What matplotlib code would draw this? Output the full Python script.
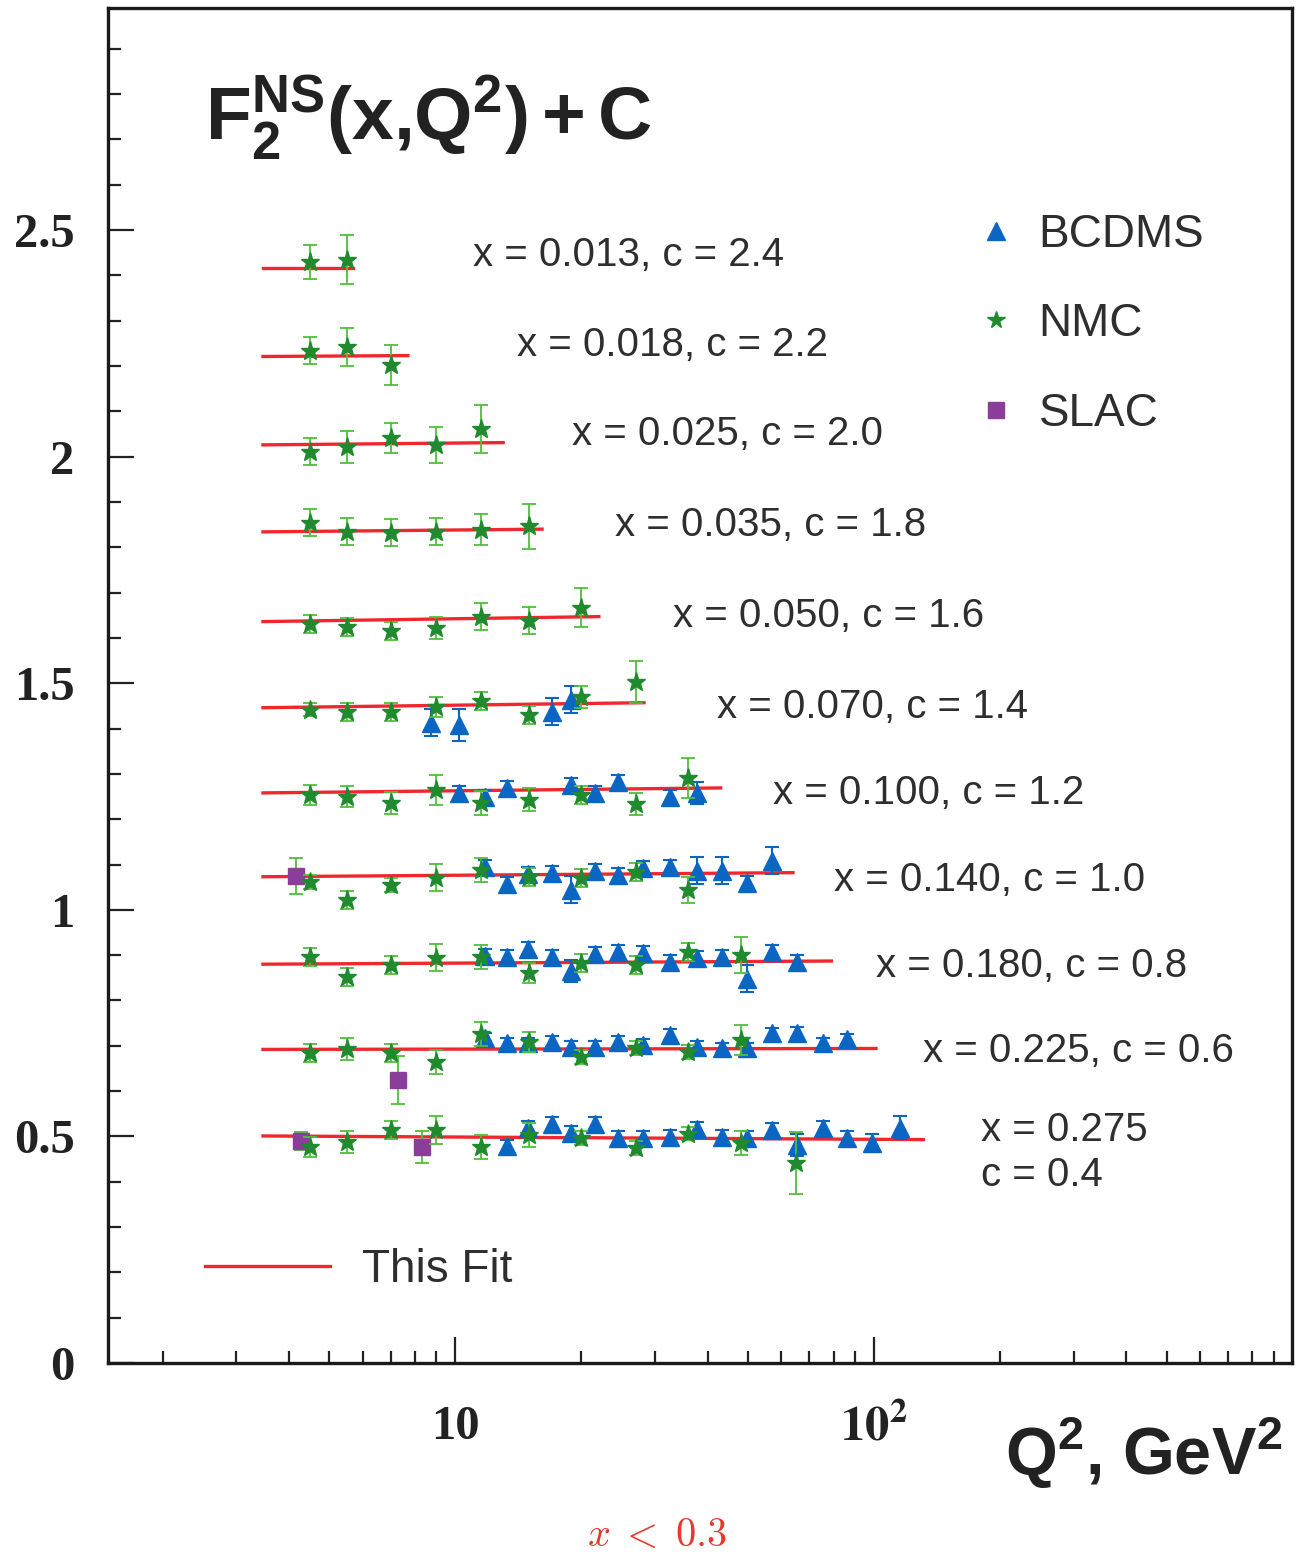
import numpy as np
import matplotlib
matplotlib.use('Agg')
import matplotlib.pyplot as plt
from matplotlib.lines import Line2D
from matplotlib.ticker import FixedLocator, MultipleLocator, FuncFormatter, NullFormatter

# --- data ---
x_bins = [0.013, 0.018, 0.025, 0.035, 0.050, 0.070, 0.100, 0.140, 0.180, 0.225, 0.275]
c_shift = [2.4, 2.2, 2.0, 1.8, 1.6, 1.4, 1.2, 1.0, 0.8, 0.6, 0.4]

# fit line per x bin (start / end Q2 and value, already shifted by c)
fit_q2_lo = [3.47] * 11
fit_q2_hi = [5.7, 7.7, 13.0, 16.1, 22.0, 28.2, 43.0, 64.0, 79.0, 101.0, 131.0]
fit_lo = [2.417, 2.221, 2.026, 1.834, 1.636, 1.446, 1.258, 1.073, 0.880, 0.692, 0.501]
fit_hi = [2.417, 2.223, 2.031, 1.840, 1.647, 1.457, 1.269, 1.082, 0.887, 0.694, 0.493]

# NMC
nmc_q2 = [
    [4.5, 5.5],
    [4.5, 5.5, 7.0],
    [4.5, 5.5, 7.0, 9.0, 11.5],
    [4.5, 5.5, 7.0, 9.0, 11.5, 15.0],
    [4.5, 5.5, 7.0, 9.0, 11.5, 15.0, 20.0],
    [4.5, 5.5, 7.0, 9.0, 11.5, 15.0, 20.0, 27.0],
    [4.5, 5.5, 7.0, 9.0, 11.5, 15.0, 20.0, 27.0, 36.0],
    [4.5, 5.5, 7.0, 9.0, 11.5, 15.0, 20.0, 27.0, 36.0],
    [4.5, 5.5, 7.0, 9.0, 11.5, 15.0, 20.0, 27.0, 36.0, 48.0],
    [4.5, 5.5, 7.0, 9.0, 11.5, 15.0, 20.0, 27.0, 36.0, 48.0],
    [4.5, 5.5, 7.0, 9.0, 11.5, 15.0, 20.0, 27.0, 36.0, 48.0, 65.0],
]
nmc_f2 = [
    [2.430, 2.435],
    [2.234, 2.241, 2.203],
    [2.011, 2.022, 2.042, 2.026, 2.060],
    [1.854, 1.834, 1.832, 1.834, 1.839, 1.846],
    [1.631, 1.625, 1.616, 1.622, 1.647, 1.638, 1.667],
    [1.442, 1.437, 1.437, 1.448, 1.461, 1.430, 1.470, 1.503],
    [1.254, 1.250, 1.236, 1.265, 1.236, 1.243, 1.254, 1.234, 1.291],
    [1.062, 1.022, 1.055, 1.071, 1.088, 1.073, 1.071, 1.084, 1.044],
    [0.896, 0.852, 0.879, 0.894, 0.896, 0.861, 0.883, 0.879, 0.907, 0.901],
    [0.684, 0.693, 0.684, 0.664, 0.726, 0.709, 0.675, 0.695, 0.686, 0.713],
    [0.477, 0.488, 0.514, 0.514, 0.477, 0.503, 0.497, 0.475, 0.506, 0.486, 0.441],
]
nmc_err = [
    [0.038, 0.053],
    [0.030, 0.042, 0.044],
    [0.030, 0.035, 0.033, 0.040, 0.053],
    [0.030, 0.030, 0.030, 0.030, 0.035, 0.050],
    [0.020, 0.020, 0.020, 0.025, 0.030, 0.030, 0.044],
    [0.015, 0.020, 0.020, 0.022, 0.020, 0.020, 0.025, 0.046],
    [0.022, 0.024, 0.025, 0.033, 0.026, 0.025, 0.020, 0.024, 0.044],
    [0.015, 0.020, 0.015, 0.030, 0.026, 0.020, 0.020, 0.020, 0.028],
    [0.020, 0.020, 0.020, 0.030, 0.027, 0.022, 0.020, 0.020, 0.020, 0.040],
    [0.020, 0.024, 0.020, 0.026, 0.026, 0.022, 0.015, 0.015, 0.015, 0.033],
    [0.022, 0.024, 0.020, 0.030, 0.026, 0.026, 0.015, 0.015, 0.015, 0.026, 0.068],
]

# BCDMS
bcdms_q2 = [
    [], [], [], [], [],
    [8.75, 10.2, 17.0, 18.9],
    [10.2, 11.75, 13.25, 18.9, 21.5, 24.5, 32.5, 37.7],
    [11.75, 13.25, 14.9, 17.0, 18.9, 21.5, 24.5, 28.0, 32.5, 37.7, 43.3, 49.8, 57.0],
    [11.75, 13.25, 14.9, 17.0, 18.9, 21.5, 24.5, 28.0, 32.5, 37.7, 43.3, 49.8, 57.0, 65.5],
    [11.75, 13.25, 14.9, 17.0, 18.9, 21.5, 24.5, 28.0, 32.5, 37.7, 43.3, 49.8, 57.0, 65.5,
     75.5, 86.0],
    [13.25, 14.9, 17.0, 18.9, 21.5, 24.5, 28.0, 32.5, 37.7, 43.3, 49.8, 57.0, 65.5, 75.5,
     86.0, 99.0, 115.0],
]
bcdms_f2 = [
    [], [], [], [], [],
    [1.413, 1.408, 1.437, 1.464],
    [1.258, 1.249, 1.269, 1.276, 1.258, 1.283, 1.249, 1.258],
    [1.095, 1.057, 1.079, 1.082, 1.044, 1.086, 1.077, 1.093, 1.095, 1.086, 1.086, 1.060, 1.108],
    [0.898, 0.896, 0.914, 0.896, 0.865, 0.903, 0.907, 0.905, 0.885, 0.894, 0.896, 0.848, 0.907,
     0.885],
    [0.717, 0.706, 0.706, 0.709, 0.698, 0.698, 0.709, 0.702, 0.724, 0.698, 0.695, 0.695, 0.728,
     0.729, 0.706, 0.715],
    [0.478, 0.519, 0.528, 0.508, 0.528, 0.497, 0.497, 0.499, 0.517, 0.499, 0.497, 0.514, 0.481,
     0.519, 0.497, 0.486, 0.519],
]
bcdms_err = [
    [], [], [], [], [],
    [0.030, 0.035, 0.030, 0.030],
    [0.015, 0.015, 0.015, 0.015, 0.015, 0.015, 0.015, 0.025],
    [0.015, 0.015, 0.015, 0.015, 0.030, 0.015, 0.015, 0.015, 0.015, 0.030, 0.030, 0.015, 0.030],
    [0.015, 0.015, 0.015, 0.015, 0.025, 0.015, 0.015, 0.015, 0.015, 0.015, 0.015, 0.030, 0.015,
     0.015],
    [0.012, 0.012, 0.012, 0.012, 0.012, 0.012, 0.012, 0.012, 0.012, 0.012, 0.012, 0.012, 0.012,
     0.012, 0.012, 0.012],
    [0.015, 0.015, 0.015, 0.015, 0.015, 0.015, 0.015, 0.015, 0.015, 0.015, 0.015, 0.015, 0.025,
     0.015, 0.015, 0.020, 0.025],
]

# SLAC
slac_q2 = [4.17, 7.3, 4.28, 8.3]
slac_f2 = [1.075, 0.625, 0.490, 0.477]
slac_err = [0.040, 0.053, 0.020, 0.035]

# where the "x = ..., c = ..." labels sit (Q2, value)
label_q2 = [11.0, 14.0, 18.95, 24.0, 33.0, 42.1, 57.3, 80.1, 101.0, 131.0, 180.0]
label_y = [2.446, 2.247, 2.049, 1.850, 1.649, 1.448, 1.258, 1.066, 0.876, 0.689, 0.514]

# --- styling ---
blue = '#0b66c3'
green = '#1f8a2e'
green_bar = '#4fbf3a'
purple = '#8b3d9a'
red = '#f0282d'
ink = '#2e2e2e'

plt.rcParams['mathtext.fontset'] = 'stix'
plt.rcParams['mathtext.bf'] = 'Liberation Sans:bold'
plt.rcParams['mathtext.rm'] = 'Liberation Sans'
plt.rcParams['mathtext.it'] = 'Liberation Sans:italic'

fig = plt.figure(figsize=(13.08, 15.56), dpi=100)
ax = fig.add_axes([108 / 1308, 1 - 1363 / 1556, 1184 / 1308, 1355 / 1556])

# fit lines
for i in range(len(x_bins)):
    ax.plot([fit_q2_lo[i], fit_q2_hi[i]], [fit_lo[i], fit_hi[i]], color=red, lw=2.4, zorder=2)

# data points
for i in range(len(x_bins)):
    if nmc_q2[i]:
        ax.errorbar(nmc_q2[i], nmc_f2[i], yerr=nmc_err[i], fmt='*', ms=14, color=green,
                    ecolor=green_bar, elinewidth=1.3, capsize=5, capthick=1.3, zorder=4)
    if bcdms_q2[i]:
        ax.errorbar(bcdms_q2[i], bcdms_f2[i], yerr=bcdms_err[i], fmt='^', ms=13, color=blue,
                    ecolor=blue, elinewidth=1.5, capsize=5, capthick=1.5, zorder=3)
ax.errorbar(slac_q2, slac_f2, yerr=slac_err, fmt='s', ms=12, color=purple,
            ecolor=green_bar, elinewidth=1.3, capsize=5, capthick=1.3, zorder=3)

# row labels
lab_font = dict(fontsize=29, family='Liberation Sans', color=ink, va='center')
for i in range(len(x_bins)):
    if i == len(x_bins) - 1:
        ax.text(label_q2[i], label_y[i], f'x = {x_bins[i]:.3f}', **lab_font)
        ax.text(label_q2[i], label_y[i] - 0.099, f'c = {c_shift[i]:.1f}', **lab_font)
    else:
        ax.text(label_q2[i], label_y[i], f'x = {x_bins[i]:.3f}, c = {c_shift[i]:.1f}',
                **lab_font)

# axes
ax.set_xscale('log')
ax.set_xlim(1.48, 995)
ax.set_ylim(0, 2.99)
ax.xaxis.set_major_locator(FixedLocator([10, 100]))
ax.xaxis.set_minor_locator(FixedLocator([2, 3, 4, 5, 6, 7, 8, 9, 20, 30, 40, 50, 60, 70, 80, 90,
                                         200, 300, 400, 500, 600, 700, 800, 900]))
ax.xaxis.set_major_formatter(FuncFormatter(lambda v, p: '10' if v < 50 else r'$\mathbf{10^{2}}$'))
ax.xaxis.set_minor_formatter(NullFormatter())
ax.yaxis.set_major_locator(MultipleLocator(0.5))
ax.yaxis.set_minor_locator(MultipleLocator(0.1))
ax.yaxis.set_major_formatter(FuncFormatter(lambda v, p: f'{v:g}'))

ax.tick_params(which='both', direction='in', top=False, right=False, width=1.6, color='#222222')
ax.tick_params(which='major', length=19)
ax.tick_params(which='minor', length=9)
ax.tick_params(axis='x', which='major', pad=30, labelsize=35)
ax.tick_params(axis='y', which='major', pad=24, labelsize=35)
for lbl in ax.get_xticklabels() + ax.get_yticklabels():
    lbl.set_fontfamily('Liberation Serif')
    lbl.set_fontweight('bold')
    lbl.set_color('#222222')
for sp in ax.spines.values():
    sp.set_linewidth(2.4)
    sp.set_color('#1a1a1a')

# title and axis label
ax.text(0.082, 0.9026, r'$\mathbf{F_2^{NS}(x{,}Q^2)+C}$', transform=ax.transAxes,
        fontsize=54, math_fontfamily='custom', color='#222222', va='baseline')
ax.text(0.992, -0.0827, r'$\mathbf{Q^2{,}\ GeV^2}$', transform=ax.transAxes, ha='right',
        va='baseline', fontsize=48, math_fontfamily='custom', color='#222222')

# legends
handles = [Line2D([], [], ls='none', marker='^', ms=13, color=blue),
           Line2D([], [], ls='none', marker='*', ms=13, color=green),
           Line2D([], [], ls='none', marker='s', ms=12, color=purple)]
leg1 = ax.legend(handles, ['BCDMS', 'NMC', 'SLAC'], loc='upper left',
                 bbox_to_anchor=(0.731, 0.849), frameon=False, handlelength=1.0,
                 handletextpad=0.42, labelspacing=1.0, borderpad=0, borderaxespad=0,
                 prop={'family': 'Liberation Sans', 'size': 33})
for t in leg1.get_texts():
    t.set_color(ink)
ax.add_artist(leg1)
leg2 = ax.legend([Line2D([], [], color=red, lw=2.4)], ['This Fit'], loc='center left',
                 bbox_to_anchor=(0.082, 0.0686), frameon=False, handlelength=2.73,
                 handletextpad=0.7, borderpad=0, borderaxespad=0,
                 prop={'family': 'Liberation Sans', 'size': 33})
for t in leg2.get_texts():
    t.set_color(ink)

fig.text(0.502, 0.0135, r'$x\;<\;0.3$', math_fontfamily='cm', fontsize=29, color='#e8382c',
         ha='center', va='center')

fig.savefig('out.png', dpi=100)
